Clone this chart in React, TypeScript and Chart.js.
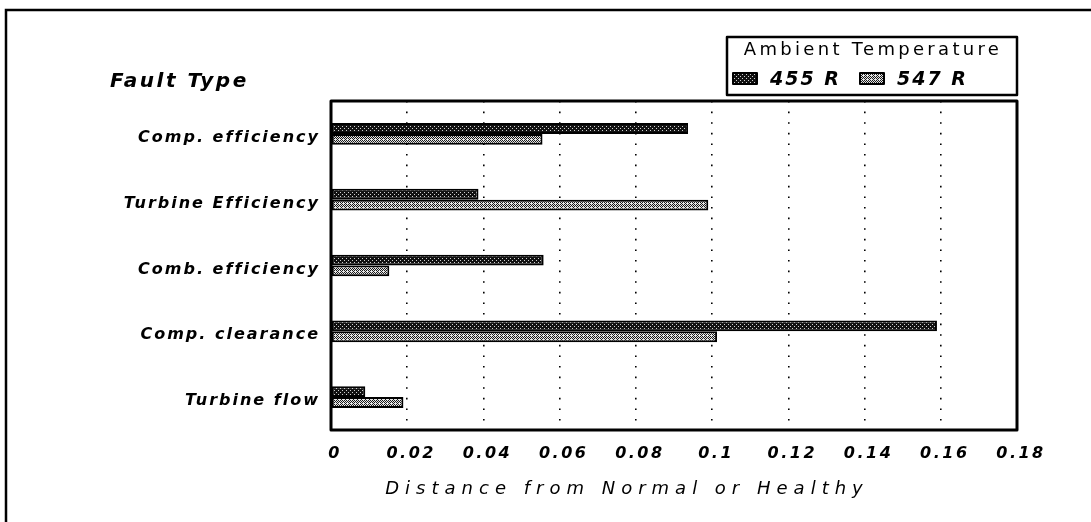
import React, { useEffect, useRef } from 'react';
import { Chart, registerables } from 'chart.js';
Chart.register(...registerables);

const categories = ['Comp. efficiency', 'Turbine Efficiency', 'Comb. efficiency', 'Comp. clearance', 'Turbine flow'];
const seriesLabels = ['455 R', '547 R'];
const values455 = [0.0937, 0.0387, 0.0558, 0.159, 0.009];
const values547 = [0.0555, 0.099, 0.0153, 0.1013, 0.019];
const xTickLabels = ['0', '0.02', '0.04', '0.06', '0.08', '0.1', '0.12', '0.14', '0.16', '0.18'];
const legendTitle = 'Ambient Temperature';
const yAxisTitle = 'Fault Type';
const xAxisTitle = 'Distance from Normal or Healthy';

const FONT = "'DejaVu Sans', 'Liberation Sans', sans-serif";

function makePattern(kind: 'dark' | 'light'): CanvasPattern | string {
  const c = document.createElement('canvas');
  c.width = 4;
  c.height = 4;
  const g = c.getContext('2d');
  if (!g) return kind === 'dark' ? '#333' : '#aaa';
  if (kind === 'dark') {
    g.fillStyle = '#111';
    g.fillRect(0, 0, 4, 4);
    g.fillStyle = '#d0d0d0';
    g.fillRect(0, 0, 1, 1);
    g.fillRect(2, 2, 1, 1);
  } else {
    g.fillStyle = '#e6e6e6';
    g.fillRect(0, 0, 4, 4);
    g.fillStyle = '#1a1a1a';
    g.fillRect(0, 0, 1, 1);
    g.fillRect(2, 0, 1, 1);
    g.fillRect(1, 1, 1, 1);
    g.fillRect(3, 1, 1, 1);
    g.fillRect(0, 2, 1, 1);
    g.fillRect(2, 2, 1, 1);
    g.fillRect(1, 3, 1, 1);
  }
  const p = g.createPattern(c, 'repeat');
  return p || (kind === 'dark' ? '#333' : '#aaa');
}

const spacingPlugin = {
  id: 'letterSpacing',
  afterUpdate(chart: any) {
    const wrap = (scale: any, method: string, spacing: string, dx: number, dy: number) => {
      const orig = scale[method];
      if (!orig || orig.__wrapped) return;
      const fn: any = function (...args: any[]) {
        const ctx = chart.ctx;
        ctx.save();
        ctx.letterSpacing = spacing;
        ctx.translate(dx, dy);
        orig.apply(scale, args);
        ctx.restore();
      };
      fn.__wrapped = true;
      scale[method] = fn;
    };
    wrap(chart.scales.x, 'drawLabels', '2.5px', 4, 0);
    wrap(chart.scales.y, 'drawLabels', '2px', 0, 4);
    wrap(chart.scales.x, 'drawTitle', '6px', -47, 0);
  },
};

const decorPlugin = {
  id: 'decor',
  afterDraw(chart: any) {
    const ctx = chart.ctx as CanvasRenderingContext2D;
    const a = chart.chartArea;
    ctx.save();
    // outer frame
    ctx.strokeStyle = '#000';
    ctx.lineWidth = 2.5;
    ctx.beginPath();
    ctx.moveTo(6, 530);
    ctx.lineTo(6, 10);
    ctx.lineTo(1100, 10);
    ctx.stroke();
    // plot box
    ctx.lineWidth = 3;
    ctx.lineJoin = 'round';
    ctx.strokeRect(a.left, a.top, a.right - a.left, a.bottom - a.top);

    // y axis title
    (ctx as any).letterSpacing = '2.5px';
    ctx.fillStyle = '#000';
    ctx.font = `italic bold 20px ${FONT}`;
    ctx.textAlign = 'left';
    ctx.textBaseline = 'middle';
    ctx.fillText(yAxisTitle, 110, 82);

    // legend
    const lg = { left: 727, top: 37, right: a.right, bottom: a.top - 6 };
    ctx.lineWidth = 2.5;
    ctx.strokeRect(lg.left, lg.top, lg.right - lg.left, lg.bottom - lg.top);
    (ctx as any).letterSpacing = '3.3px';
    ctx.font = `normal 18px ${FONT}`;
    ctx.textAlign = 'center';
    ctx.fillText(legendTitle, (lg.left + lg.right) / 2 + 1, 50);
    ctx.font = `italic bold 19px ${FONT}`;
    (ctx as any).letterSpacing = '2px';
    ctx.textAlign = 'left';
    const itemX = [733, 860];
    chart.data.datasets.forEach((ds: any, i: number) => {
      const x = itemX[i];
      ctx.fillStyle = ds.backgroundColor;
      ctx.fillRect(x, 73, 24, 11);
      ctx.lineWidth = 2;
      ctx.strokeStyle = '#000';
      ctx.strokeRect(x, 73, 24, 11);
      ctx.fillStyle = '#000';
      ctx.fillText(ds.label, x + 37, 80);
    });
    ctx.restore();
  },
};

export default function App() {
  const ref = useRef<HTMLCanvasElement | null>(null);
  useEffect(() => {
    if (!ref.current) return;
    const dark = makePattern('dark');
    const light = makePattern('light');
    const chart = new Chart(ref.current, {
      type: 'bar',
      data: {
        labels: categories,
        datasets: [
          {
            label: seriesLabels[0],
            data: values455,
            backgroundColor: dark as any,
            borderColor: '#000',
            borderWidth: 2,
            borderSkipped: false,
            categoryPercentage: 0.33,
            barPercentage: 1,
          },
          {
            label: seriesLabels[1],
            data: values547,
            backgroundColor: light as any,
            borderColor: '#000',
            borderWidth: 2,
            borderSkipped: false,
            categoryPercentage: 0.33,
            barPercentage: 1,
          },
        ],
      },
      options: {
        indexAxis: 'y',
        responsive: false,
        animation: false,
        devicePixelRatio: 1,
        layout: { padding: { left: 0, top: 101, right: 74, bottom: 0 } },
        plugins: {
          legend: { display: false },
          tooltip: { enabled: false },
        },
        scales: {
          x: {
            type: 'linear',
            min: 0,
            max: 0.18,
            afterFit: (s: any) => {
              s.height = 92;
            },
            ticks: {
              stepSize: 0.02,
              color: '#000',
              padding: 14,
              font: { family: FONT, size: 16, weight: 'bold', style: 'italic' },
              callback: (_v: any, i: number) => xTickLabels[i],
              maxRotation: 0,
            },
            grid: { color: '#000', lineWidth: 1.6, drawTicks: false },
            border: { display: false, dash: [1.6, 9] },
            title: {
              display: true,
              text: xAxisTitle,
              color: '#000',
              font: { family: FONT, size: 18, style: 'italic', weight: 'normal' },
              padding: { top: 0, bottom: 22 },
            },
          },
          y: {
            type: 'category',
            afterFit: (s: any) => {
              s.width = 331;
            },
            ticks: {
              color: '#000',
              padding: 11,
              font: { family: FONT, size: 16, weight: 'bold', style: 'italic' },
            },
            grid: { display: false, drawTicks: false },
            border: { display: false },
          },
        },
      },
      plugins: [spacingPlugin, decorPlugin],
    } as any);
    return () => chart.destroy();
  }, []);
  return (
    <div style={{ position: 'absolute', left: 0, top: 0, width: 1091, height: 522, background: '#fff' }}>
      <canvas ref={ref} width={1091} height={522} style={{ display: 'block', width: 1091, height: 522 }} />
    </div>
  );
}
